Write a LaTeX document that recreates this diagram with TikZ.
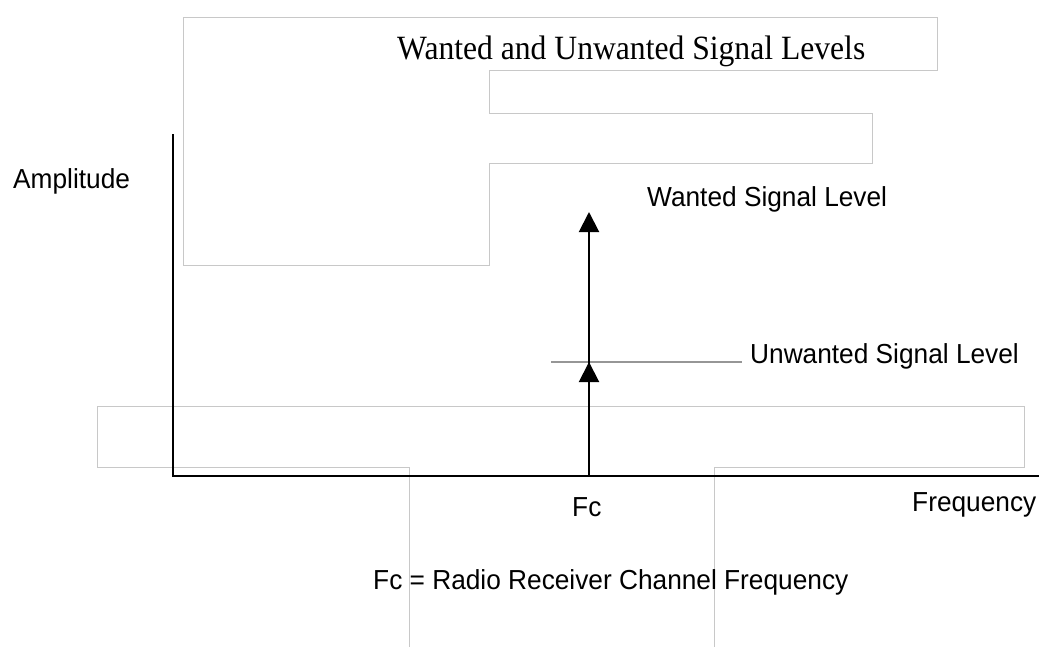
\documentclass[tikz,border=0pt]{standalone}
\usepackage{fontspec}
\setmainfont{Liberation Serif}
\setsansfont{Liberation Sans}
\usetikzlibrary{arrows.meta}
\newcommand{\sanstext}[1]{\scalebox{0.955}[1]{#1}}
\newcommand{\titletext}[1]{\scalebox{0.93}[1]{#1}}
\tikzset{
  outline/.style={draw={rgb,255:red,200;green,200;blue,200}, line width=1pt},
  axisline/.style={draw=black, line width=2pt},
  sig/.style={draw=black, line width=2pt, -{Triangle[width=20pt,length=20pt]}},
  level/.style={draw={rgb,255:red,150;green,150;blue,150}, line width=2pt},
  lbl/.style={inner sep=0pt, anchor=base west, font=\sffamily\fontsize{27.5}{30}\selectfont},
  ttl/.style={inner sep=0pt, anchor=base west, font=\rmfamily\fontsize{34}{38}\selectfont}
}
\begin{document}
\begin{tikzpicture}[x=1pt,y=-1pt]
\useasboundingbox (0,0) rectangle (1039,646);
% grey outline shapes
\draw[outline] (183,17) -- (937,17) -- (937,70) -- (489,70) -- (489,113) -- (872,113) -- (872,163) -- (489,163) -- (489,265) -- (183,265) -- cycle;
\draw[outline] (409,650) -- (409,467) -- (97,467) -- (97,406) -- (1024,406) -- (1024,467) -- (714,467) -- (714,650);
% axes
\coordinate (ytop) at (173,134);
\coordinate (origin) at (173,476);
\coordinate (xend) at (1039,476);
\draw[axisline] (ytop) -- (origin) -- (xend);
% signals
\coordinate (fc) at (589,476);
\coordinate (wtip) at (589,212);
\coordinate (utip) at (589,362);
\coordinate (ul) at (551,362);
\coordinate (ur) at (742,362);
\draw[level] (ul) -- (ur);
\draw[sig] (fc) -- (wtip);
\draw[sig] (fc) -- (utip);
% texts
\node[ttl] (title) at (397,59) {\titletext{Wanted and Unwanted Signal Levels}};
\node[lbl] (wanted) at (647,206) {\sanstext{Wanted Signal Level}};
\node[lbl] (unwanted) at (750,363) {\sanstext{Unwanted Signal Level}};
\node[lbl] (amp) at (13,188) {\sanstext{Amplitude}};
\node[lbl] (fclbl) at (572,516) {\sanstext{Fc}};
\node[lbl] (freq) at (912,511) {\sanstext{Frequency}};
\node[lbl] (note) at (373,589) {\sanstext{Fc = Radio Receiver Channel Frequency}};
\end{tikzpicture}
\end{document}
